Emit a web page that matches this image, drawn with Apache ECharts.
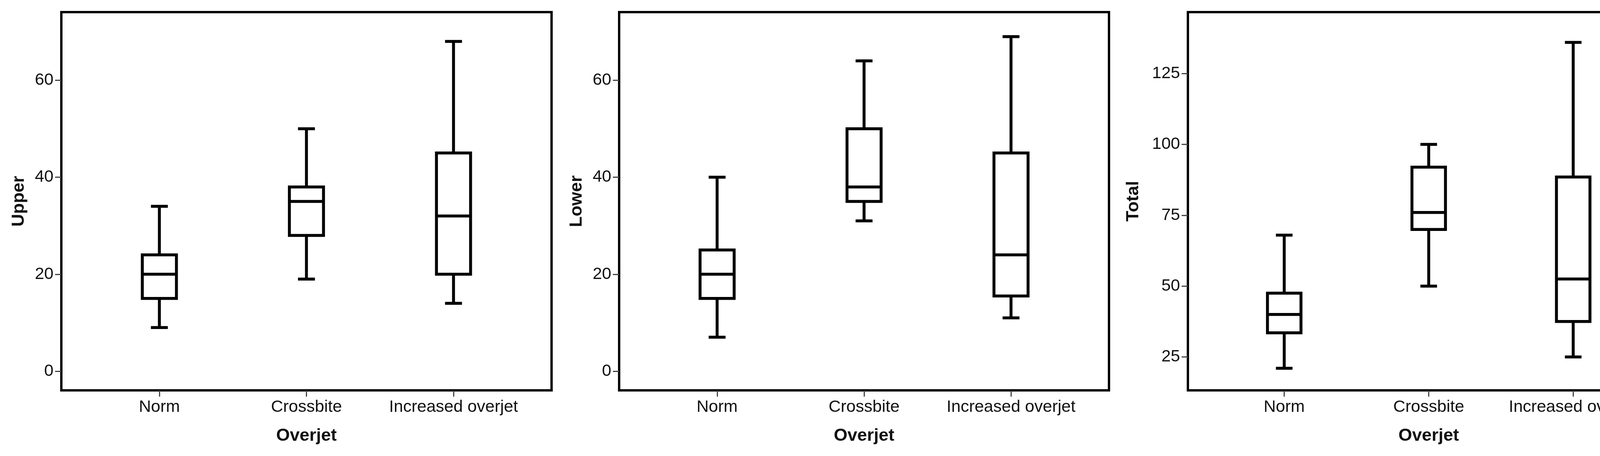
<!DOCTYPE html>
<html><head><meta charset="utf-8">
<script src="https://cdn.jsdelivr.net/npm/echarts@6/dist/echarts.min.js"></script>
<style>html,body{margin:0;padding:0;background:#fff;overflow:hidden}#c{width:4292px;height:1167px}</style>
</head><body><div id="c"></div>
<script>
const categories = ['Norm', 'Crossbite', 'Increased overjet'];
// each entry: [min, Q1, median, Q3, max]
const upperStats = [[9, 15, 20, 24, 34], [19, 28, 35, 38, 50], [14, 20, 32, 45, 68]];
const lowerStats = [[7, 15, 20, 25, 40], [31, 35, 38, 50, 64], [11, 15.5, 24, 45, 69]];
const totalStats = [[21, 33.5, 40, 47.5, 68], [50, 70, 76, 92, 100], [25, 37.5, 52.5, 88.5, 136]];
const upperTicks = [0, 20, 40, 60];
const lowerTicks = [0, 20, 40, 60];
const totalTicks = [25, 50, 75, 100, 125];
const yTitles = ['Upper', 'Lower', 'Total'];
const xTitle = 'Overjet';

const FONT = '"Liberation Sans", Arial, sans-serif';
const panels = [
  {stats: upperStats, ticks: upperTicks, title: yTitles[0], min: -3.95, max: 74.05, left: 157, width: 1255, nameGap: 86},
  {stats: lowerStats, ticks: lowerTicks, title: yTitles[1], min: -3.95, max: 74.05, left: 1585, width: 1254, nameGap: 86},
  {stats: totalStats, ticks: totalTicks, title: yTitles[2], min: 13.2, max: 146.7, left: 3041, width: 1233, nameGap: 117}
];

function renderBox(params, api) {
  const x = api.value(0);
  const c = [1, 2, 3, 4, 5].map(i => api.coord([x, api.value(i)]));
  const bw = api.size([0.232, 0])[0];
  const cw = api.size([0.115, 0])[0];
  const cx = c[0][0];
  const st = () => ({stroke: '#000', lineWidth: 7.5, fill: null});
  return {
    type: 'group',
    children: [
      {type: 'line', shape: {x1: cx, y1: c[0][1], x2: cx, y2: c[1][1]}, style: st()},
      {type: 'line', shape: {x1: cx, y1: c[3][1], x2: cx, y2: c[4][1]}, style: st()},
      {type: 'line', shape: {x1: cx - cw / 2, y1: c[0][1], x2: cx + cw / 2, y2: c[0][1]}, style: st()},
      {type: 'line', shape: {x1: cx - cw / 2, y1: c[4][1], x2: cx + cw / 2, y2: c[4][1]}, style: st()},
      {type: 'rect', shape: {x: cx - bw / 2, y: c[3][1], width: bw, height: c[1][1] - c[3][1]},
        style: {stroke: '#000', lineWidth: 7.5, fill: '#fff'}},
      {type: 'line', shape: {x1: cx - bw / 2, y1: c[2][1], x2: cx + bw / 2, y2: c[2][1]}, style: st()}
    ]
  };
}

const option = {
  backgroundColor: '#fff',
  animation: false,
  grid: panels.map(p => ({
    left: p.left, width: p.width, top: 31, height: 968,
    show: true, borderColor: '#000', borderWidth: 6, backgroundColor: 'transparent'
  })),
  xAxis: panels.map((p, i) => ({
    type: 'value', gridIndex: i, min: -2 / 3, max: 8 / 3, position: 'bottom',
    splitLine: {show: false}, axisLine: {show: false, onZero: false},
    axisTick: {show: true, length: 16, customValues: [0, 1, 2], lineStyle: {color: '#444', width: 3}},
    axisLabel: {customValues: [0, 1, 2], formatter: v => categories[Math.round(v)] || '',
      fontFamily: FONT, fontSize: 43, color: '#111', margin: 22},
    name: xTitle, nameLocation: 'middle', nameGap: 94,
    nameTextStyle: {fontFamily: FONT, fontSize: 45, fontWeight: 'bold', color: '#111'}
  })),
  yAxis: panels.map((p, i) => ({
    type: 'value', gridIndex: i, min: p.min, max: p.max, position: 'left',
    splitLine: {show: false}, axisLine: {show: false, onZero: false},
    axisTick: {show: true, length: 16, customValues: p.ticks, lineStyle: {color: '#444', width: 3}},
    axisLabel: {customValues: p.ticks, fontFamily: FONT, fontSize: 43, color: '#111', margin: 20},
    name: p.title, nameLocation: 'middle', nameGap: p.nameGap, nameRotate: 90,
    nameTextStyle: {fontFamily: FONT, fontSize: 45, fontWeight: 'bold', color: '#111'}
  })),
  series: panels.map((p, i) => ({
    type: 'custom', xAxisIndex: i, yAxisIndex: i,
    renderItem: renderBox,
    encode: {x: 0, y: [1, 2, 3, 4, 5]},
    data: p.stats.map((s, k) => [k].concat(s)),
    clip: false
  }))
};

echarts.init(document.getElementById('c')).setOption(option);
</script>
</body></html>
